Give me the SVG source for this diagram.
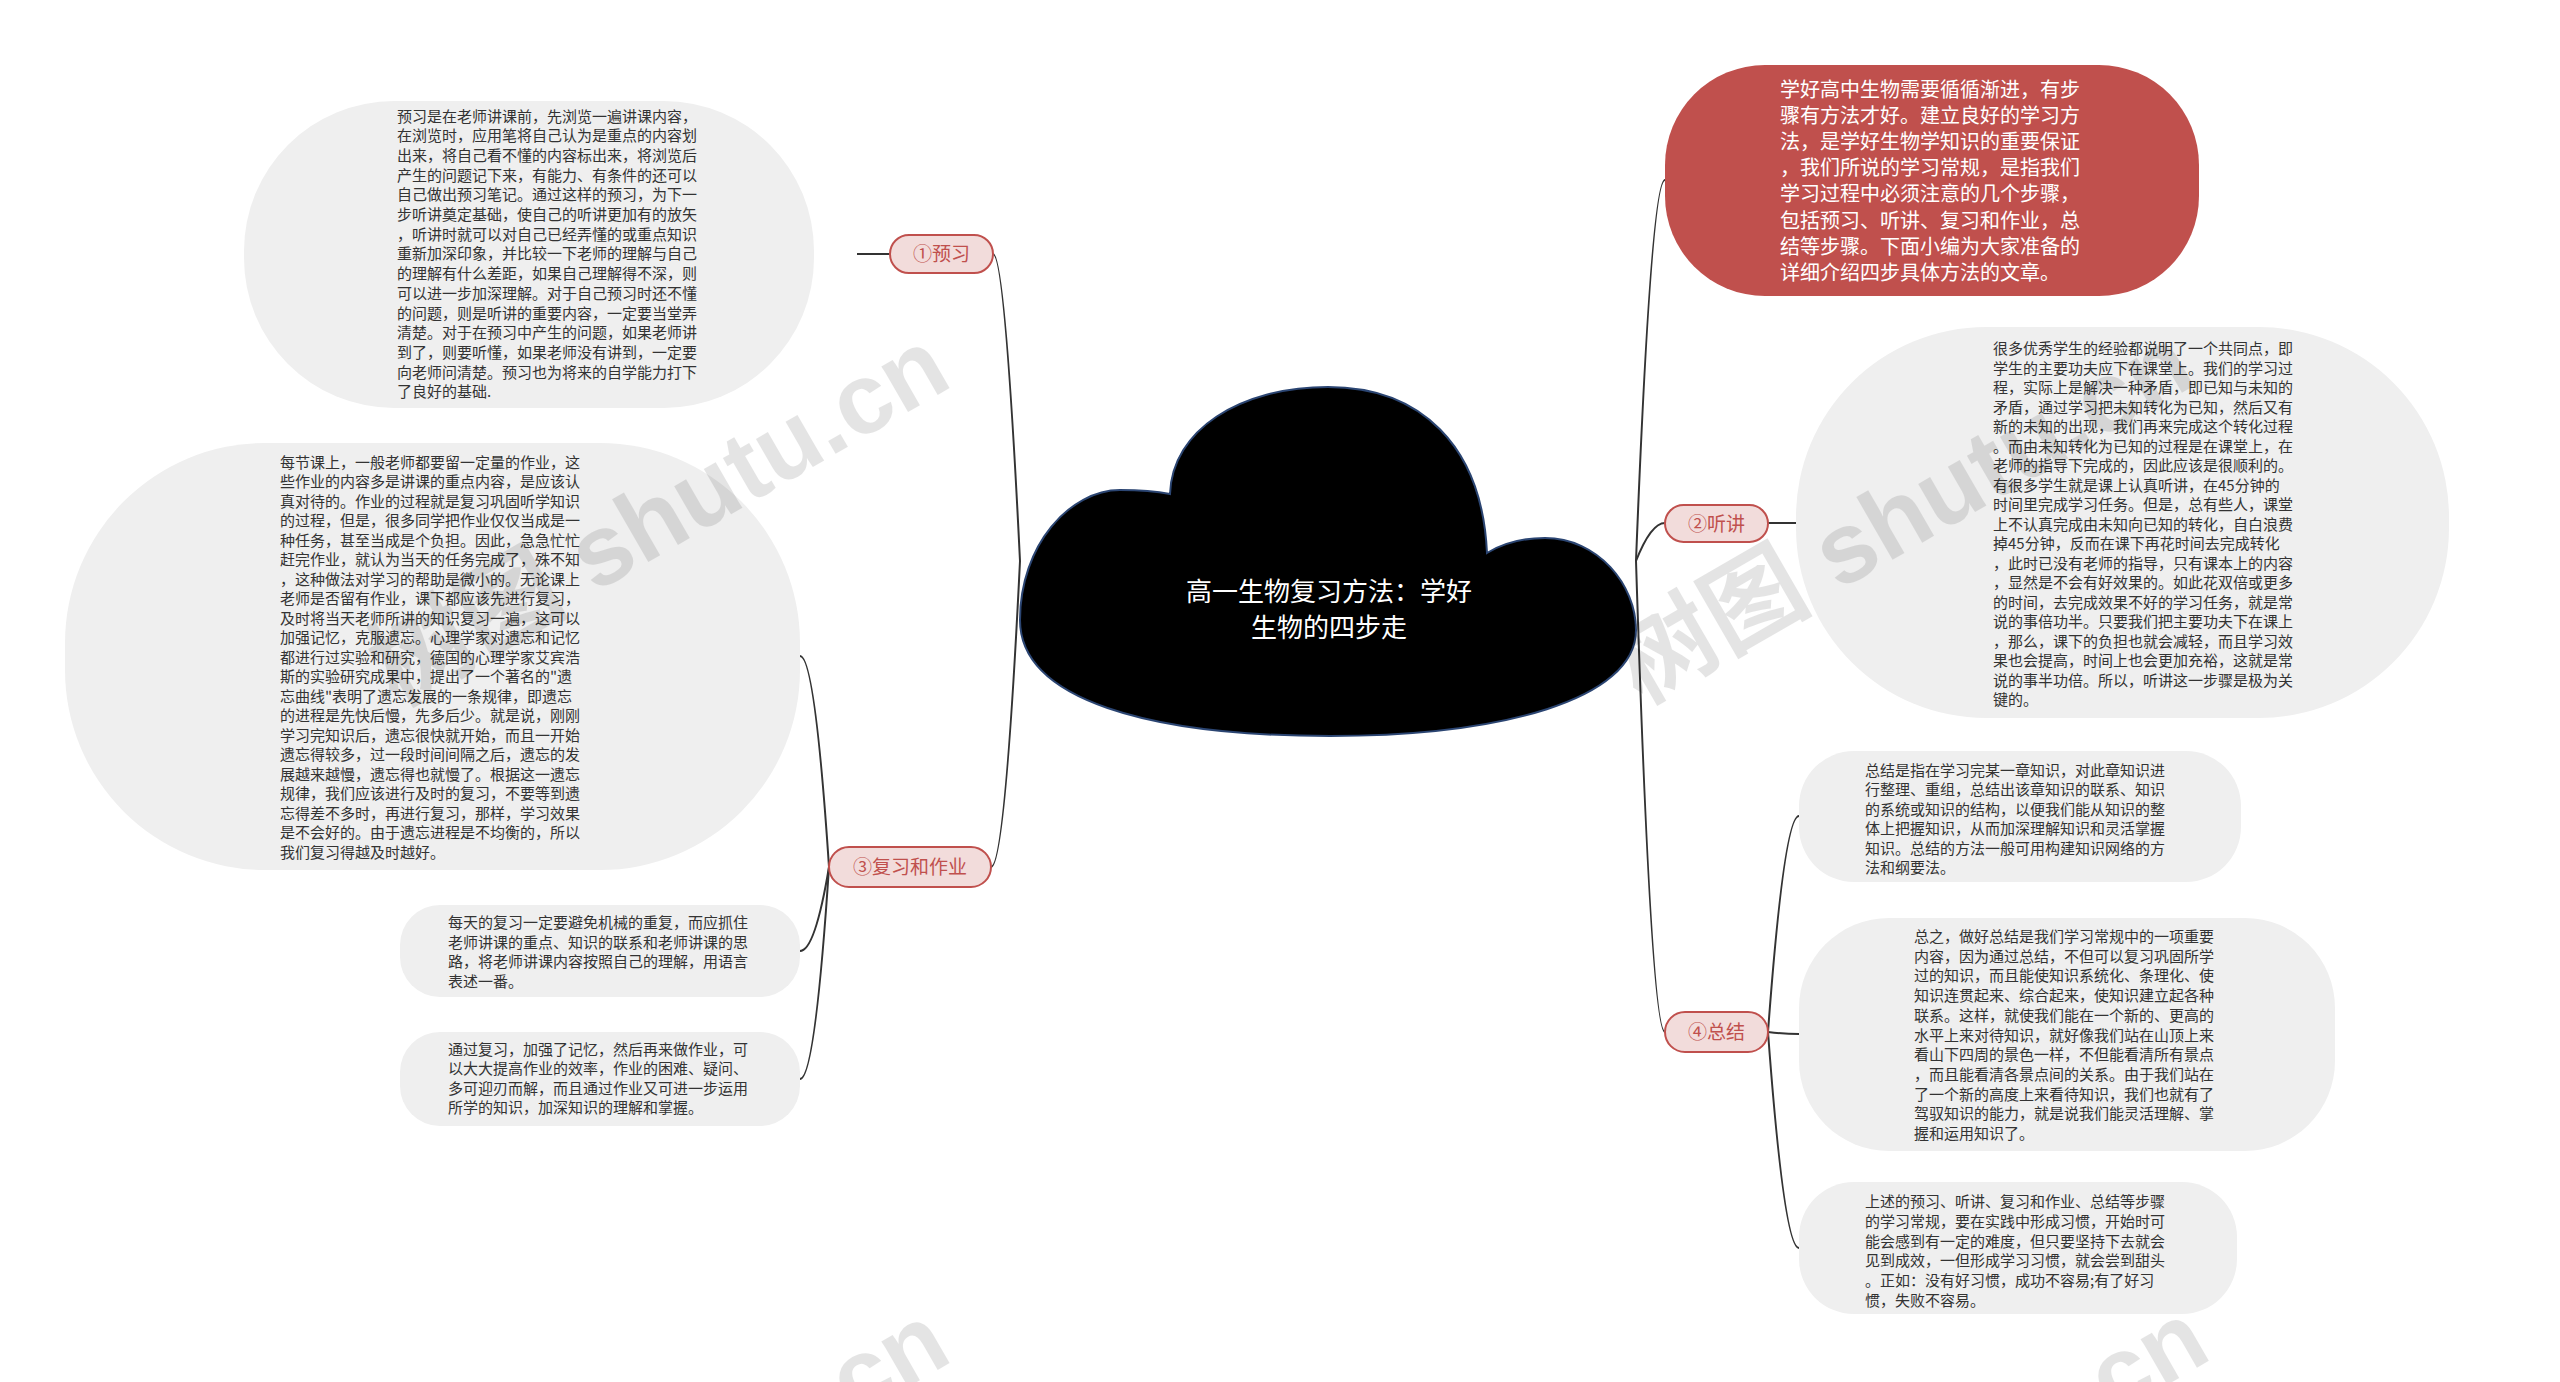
<svg xmlns="http://www.w3.org/2000/svg" width="2560" height="1382" viewBox="0 0 2560 1382">
<style>
.bub{fill:#efefef;}
.bt{font-family:"Noto Sans CJK SC","Noto Sans",sans-serif;font-size:15px;fill:#333333;}
.conn{fill:none;stroke:#333333;stroke-width:2;}
.pill{fill:#f2dcdb;stroke:#c0504d;stroke-width:2;}
.pt{font-family:"Noto Sans CJK SC","Noto Sans",sans-serif;font-size:19px;fill:#c0504d;text-anchor:middle;}
.wm{font-family:"Liberation Sans","Noto Sans CJK SC",sans-serif;font-size:100px;font-weight:bold;fill:#000;opacity:0.1;}
</style>
<rect width="2560" height="1382" fill="#ffffff"/>
<g id="connectors">
<path class="conn" d="M1020,561 Q1005,254 993,254"/>
<path class="conn" d="M1020,561 Q1005,867 991,867"/>
<path class="conn" d="M1636,561 Q1651,180 1665,180"/>
<path class="conn" d="M1636,561 Q1651,523 1665,523"/>
<path class="conn" d="M1636,561 Q1651,1032 1665,1032"/>
<path class="conn" d="M890,254 L857,254"/>
<path class="conn" d="M829,867 Q815,656 800,656"/>
<path class="conn" d="M829,867 Q815,951 800,951"/>
<path class="conn" d="M829,867 Q815,1079 800,1079"/>
<path class="conn" d="M1768,523 L1796,523"/>
<path class="conn" d="M1768,1032 Q1784,816 1799,816"/>
<path class="conn" d="M1768,1032 Q1784,1034 1799,1034"/>
<path class="conn" d="M1768,1032 Q1784,1248 1799,1248"/>
</g>
<g id="root">
<path d="M1170,494 C1172,430 1240,387 1328,387 C1420,387 1482,445 1487,553 C1505,542 1525,538 1545,538 C1598,538 1636,585 1636,630 C1636,700 1500,736 1330,736 C1150,736 1020,700 1020,620 C1020,545 1070,490 1120,490 C1140,490 1160,492 1170,494 Z" fill="#000000" stroke="#2b4572" stroke-width="2"/>
<text font-family="&quot;Noto Sans CJK SC&quot;,sans-serif" font-size="26" fill="#ffffff" text-anchor="middle"><tspan x="1329" y="601">高一生物复习方法：学好</tspan><tspan x="1329" y="637">生物的四步走</tspan></text>
</g>
<g id="intro">
<rect x="1665" y="65" width="534" height="231" rx="100" fill="#c0504d"/>
<text font-family="&quot;Noto Sans CJK SC&quot;,sans-serif" font-size="20" fill="#ffffff">
<tspan x="1780" y="96.5">学好高中生物需要循循渐进，有步</tspan>
<tspan x="1780" y="122.7">骤有方法才好。建立良好的学习方</tspan>
<tspan x="1780" y="148.9">法，是学好生物学知识的重要保证</tspan>
<tspan x="1780" y="175.1">，我们所说的学习常规，是指我们</tspan>
<tspan x="1780" y="201.3">学习过程中必须注意的几个步骤，</tspan>
<tspan x="1780" y="227.5">包括预习、听讲、复习和作业，总</tspan>
<tspan x="1780" y="253.7">结等步骤。下面小编为大家准备的</tspan>
<tspan x="1780" y="279.9">详细介绍四步具体方法的文章。</tspan>
</text>
</g>
<g id="n1">
<rect class="pill" x="890" y="235" width="103" height="38" rx="19"/>
<text class="pt" x="941.5" y="261">①预习</text>
</g>
<g id="n2">
<rect class="pill" x="1665" y="505" width="103" height="37" rx="18.5"/>
<text class="pt" x="1716.5" y="530.5">②听讲</text>
</g>
<g id="n3">
<rect class="pill" x="829" y="847" width="162" height="40" rx="20"/>
<text class="pt" x="910" y="874">③复习和作业</text>
</g>
<g id="n4">
<rect class="pill" x="1665" y="1012" width="103" height="40" rx="20"/>
<text class="pt" x="1716.5" y="1039">④总结</text>
</g>
<g id="b1">
<rect class="bub" x="244" y="101" width="570" height="307" rx="150"/>
<text class="bt">
<tspan x="397" y="121.5">预习是在老师讲课前，先浏览一遍讲课内容，</tspan>
<tspan x="397" dy="19.7">在浏览时，应用笔将自己认为是重点的内容划</tspan>
<tspan x="397" dy="19.7">出来，将自己看不懂的内容标出来，将浏览后</tspan>
<tspan x="397" dy="19.7">产生的问题记下来，有能力、有条件的还可以</tspan>
<tspan x="397" dy="19.7">自己做出预习笔记。通过这样的预习，为下一</tspan>
<tspan x="397" dy="19.7">步听讲奠定基础，使自己的听讲更加有的放矢</tspan>
<tspan x="397" dy="19.7">，听讲时就可以对自己已经弄懂的或重点知识</tspan>
<tspan x="397" dy="19.7">重新加深印象，并比较一下老师的理解与自己</tspan>
<tspan x="397" dy="19.7">的理解有什么差距，如果自己理解得不深，则</tspan>
<tspan x="397" dy="19.7">可以进一步加深理解。对于自己预习时还不懂</tspan>
<tspan x="397" dy="19.7">的问题，则是听讲的重要内容，一定要当堂弄</tspan>
<tspan x="397" dy="19.7">清楚。对于在预习中产生的问题，如果老师讲</tspan>
<tspan x="397" dy="19.7">到了，则要听懂，如果老师没有讲到，一定要</tspan>
<tspan x="397" dy="19.7">向老师问清楚。预习也为将来的自学能力打下</tspan>
<tspan x="397" dy="19.7">了良好的基础.</tspan>
</text>
</g>
<g id="b2">
<rect class="bub" x="65" y="443" width="735" height="427" rx="200"/>
<text class="bt">
<tspan x="280" y="467.5">每节课上，一般老师都要留一定量的作业，这</tspan>
<tspan x="280" dy="19.5">些作业的内容多是讲课的重点内容，是应该认</tspan>
<tspan x="280" dy="19.5">真对待的。作业的过程就是复习巩固听学知识</tspan>
<tspan x="280" dy="19.5">的过程，但是，很多同学把作业仅仅当成是一</tspan>
<tspan x="280" dy="19.5">种任务，甚至当成是个负担。因此，急急忙忙</tspan>
<tspan x="280" dy="19.5">赶完作业，就认为当天的任务完成了，殊不知</tspan>
<tspan x="280" dy="19.5">，这种做法对学习的帮助是微小的。无论课上</tspan>
<tspan x="280" dy="19.5">老师是否留有作业，课下都应该先进行复习，</tspan>
<tspan x="280" dy="19.5">及时将当天老师所讲的知识复习一遍，这可以</tspan>
<tspan x="280" dy="19.5">加强记忆，克服遗忘。心理学家对遗忘和记忆</tspan>
<tspan x="280" dy="19.5">都进行过实验和研究，德国的心理学家艾宾浩</tspan>
<tspan x="280" dy="19.5">斯的实验研究成果中，提出了一个著名的"遗</tspan>
<tspan x="280" dy="19.5">忘曲线"表明了遗忘发展的一条规律，即遗忘</tspan>
<tspan x="280" dy="19.5">的进程是先快后慢，先多后少。就是说，刚刚</tspan>
<tspan x="280" dy="19.5">学习完知识后，遗忘很快就开始，而且一开始</tspan>
<tspan x="280" dy="19.5">遗忘得较多，过一段时间间隔之后，遗忘的发</tspan>
<tspan x="280" dy="19.5">展越来越慢，遗忘得也就慢了。根据这一遗忘</tspan>
<tspan x="280" dy="19.5">规律，我们应该进行及时的复习，不要等到遗</tspan>
<tspan x="280" dy="19.5">忘得差不多时，再进行复习，那样，学习效果</tspan>
<tspan x="280" dy="19.5">是不会好的。由于遗忘进程是不均衡的，所以</tspan>
<tspan x="280" dy="19.5">我们复习得越及时越好。</tspan>
</text>
</g>
<g id="b3">
<rect class="bub" x="400" y="905" width="400" height="92" rx="40"/>
<text class="bt">
<tspan x="448" y="928">每天的复习一定要避免机械的重复，而应抓住</tspan>
<tspan x="448" dy="19.6">老师讲课的重点、知识的联系和老师讲课的思</tspan>
<tspan x="448" dy="19.6">路，将老师讲课内容按照自己的理解，用语言</tspan>
<tspan x="448" dy="19.6">表述一番。</tspan>
</text>
</g>
<g id="b4">
<rect class="bub" x="400" y="1032" width="400" height="94" rx="40"/>
<text class="bt">
<tspan x="448" y="1054.5">通过复习，加强了记忆，然后再来做作业，可</tspan>
<tspan x="448" dy="19.6">以大大提高作业的效率，作业的困难、疑问、</tspan>
<tspan x="448" dy="19.6">多可迎刃而解，而且通过作业又可进一步运用</tspan>
<tspan x="448" dy="19.6">所学的知识，加深知识的理解和掌握。</tspan>
</text>
</g>
<g id="r1">
<rect class="bub" x="1796" y="327" width="653" height="391" rx="190"/>
<text class="bt">
<tspan x="1993" y="354">很多优秀学生的经验都说明了一个共同点，即</tspan>
<tspan x="1993" dy="19.5">学生的主要功夫应下在课堂上。我们的学习过</tspan>
<tspan x="1993" dy="19.5">程，实际上是解决一种矛盾，即已知与未知的</tspan>
<tspan x="1993" dy="19.5">矛盾，通过学习把未知转化为已知，然后又有</tspan>
<tspan x="1993" dy="19.5">新的未知的出现，我们再来完成这个转化过程</tspan>
<tspan x="1993" dy="19.5">。而由未知转化为已知的过程是在课堂上，在</tspan>
<tspan x="1993" dy="19.5">老师的指导下完成的，因此应该是很顺利的。</tspan>
<tspan x="1993" dy="19.5">有很多学生就是课上认真听讲，在45分钟的</tspan>
<tspan x="1993" dy="19.5">时间里完成学习任务。但是，总有些人，课堂</tspan>
<tspan x="1993" dy="19.5">上不认真完成由未知向已知的转化，自白浪费</tspan>
<tspan x="1993" dy="19.5">掉45分钟，反而在课下再花时间去完成转化</tspan>
<tspan x="1993" dy="19.5">，此时已没有老师的指导，只有课本上的内容</tspan>
<tspan x="1993" dy="19.5">，显然是不会有好效果的。如此花双倍或更多</tspan>
<tspan x="1993" dy="19.5">的时间，去完成效果不好的学习任务，就是常</tspan>
<tspan x="1993" dy="19.5">说的事倍功半。只要我们把主要功夫下在课上</tspan>
<tspan x="1993" dy="19.5">，那么，课下的负担也就会减轻，而且学习效</tspan>
<tspan x="1993" dy="19.5">果也会提高，时间上也会更加充裕，这就是常</tspan>
<tspan x="1993" dy="19.5">说的事半功倍。所以，听讲这一步骤是极为关</tspan>
<tspan x="1993" dy="19.5">键的。</tspan>
</text>
</g>
<g id="r2">
<rect class="bub" x="1799" y="751" width="442" height="131" rx="55"/>
<text class="bt">
<tspan x="1865" y="775.5">总结是指在学习完某一章知识，对此章知识进</tspan>
<tspan x="1865" dy="19.5">行整理、重组，总结出该章知识的联系、知识</tspan>
<tspan x="1865" dy="19.5">的系统或知识的结构，以便我们能从知识的整</tspan>
<tspan x="1865" dy="19.5">体上把握知识，从而加深理解知识和灵活掌握</tspan>
<tspan x="1865" dy="19.5">知识。总结的方法一般可用构建知识网络的方</tspan>
<tspan x="1865" dy="19.5">法和纲要法。</tspan>
</text>
</g>
<g id="r3">
<rect class="bub" x="1799" y="918" width="536" height="233" rx="90"/>
<text class="bt">
<tspan x="1914" y="942">总之，做好总结是我们学习常规中的一项重要</tspan>
<tspan x="1914" dy="19.7">内容，因为通过总结，不但可以复习巩固所学</tspan>
<tspan x="1914" dy="19.7">过的知识，而且能使知识系统化、条理化、使</tspan>
<tspan x="1914" dy="19.7">知识连贯起来、综合起来，使知识建立起各种</tspan>
<tspan x="1914" dy="19.7">联系。这样，就使我们能在一个新的、更高的</tspan>
<tspan x="1914" dy="19.7">水平上来对待知识，就好像我们站在山顶上来</tspan>
<tspan x="1914" dy="19.7">看山下四周的景色一样，不但能看清所有景点</tspan>
<tspan x="1914" dy="19.7">，而且能看清各景点间的关系。由于我们站在</tspan>
<tspan x="1914" dy="19.7">了一个新的高度上来看待知识，我们也就有了</tspan>
<tspan x="1914" dy="19.7">驾驭知识的能力，就是说我们能灵活理解、掌</tspan>
<tspan x="1914" dy="19.7">握和运用知识了。</tspan>
</text>
</g>
<g id="r4">
<rect class="bub" x="1799" y="1182" width="438" height="132" rx="55"/>
<text class="bt">
<tspan x="1865" y="1207">上述的预习、听讲、复习和作业、总结等步骤</tspan>
<tspan x="1865" dy="19.8">的学习常规，要在实践中形成习惯，开始时可</tspan>
<tspan x="1865" dy="19.8">能会感到有一定的难度，但只要坚持下去就会</tspan>
<tspan x="1865" dy="19.8">见到成效，一但形成学习习惯，就会尝到甜头</tspan>
<tspan x="1865" dy="19.8">。正如：没有好习惯，成功不容易;有了好习</tspan>
<tspan x="1865" dy="19.8">惯，失败不容易。</tspan>
</text>
</g>
<g id="watermark">
<text class="wm" text-anchor="end" transform="translate(955,385) rotate(-30)">树图 shutu.cn</text>
<text class="wm" transform="translate(1641,705) rotate(-30)">树图 shutu.cn</text>
<text class="wm" text-anchor="end" transform="translate(955,1360) rotate(-30)">树图 shutu.cn</text>
<text class="wm" transform="translate(1656,1680) rotate(-30)">树图 shutu.cn</text>
</g>
</svg>
